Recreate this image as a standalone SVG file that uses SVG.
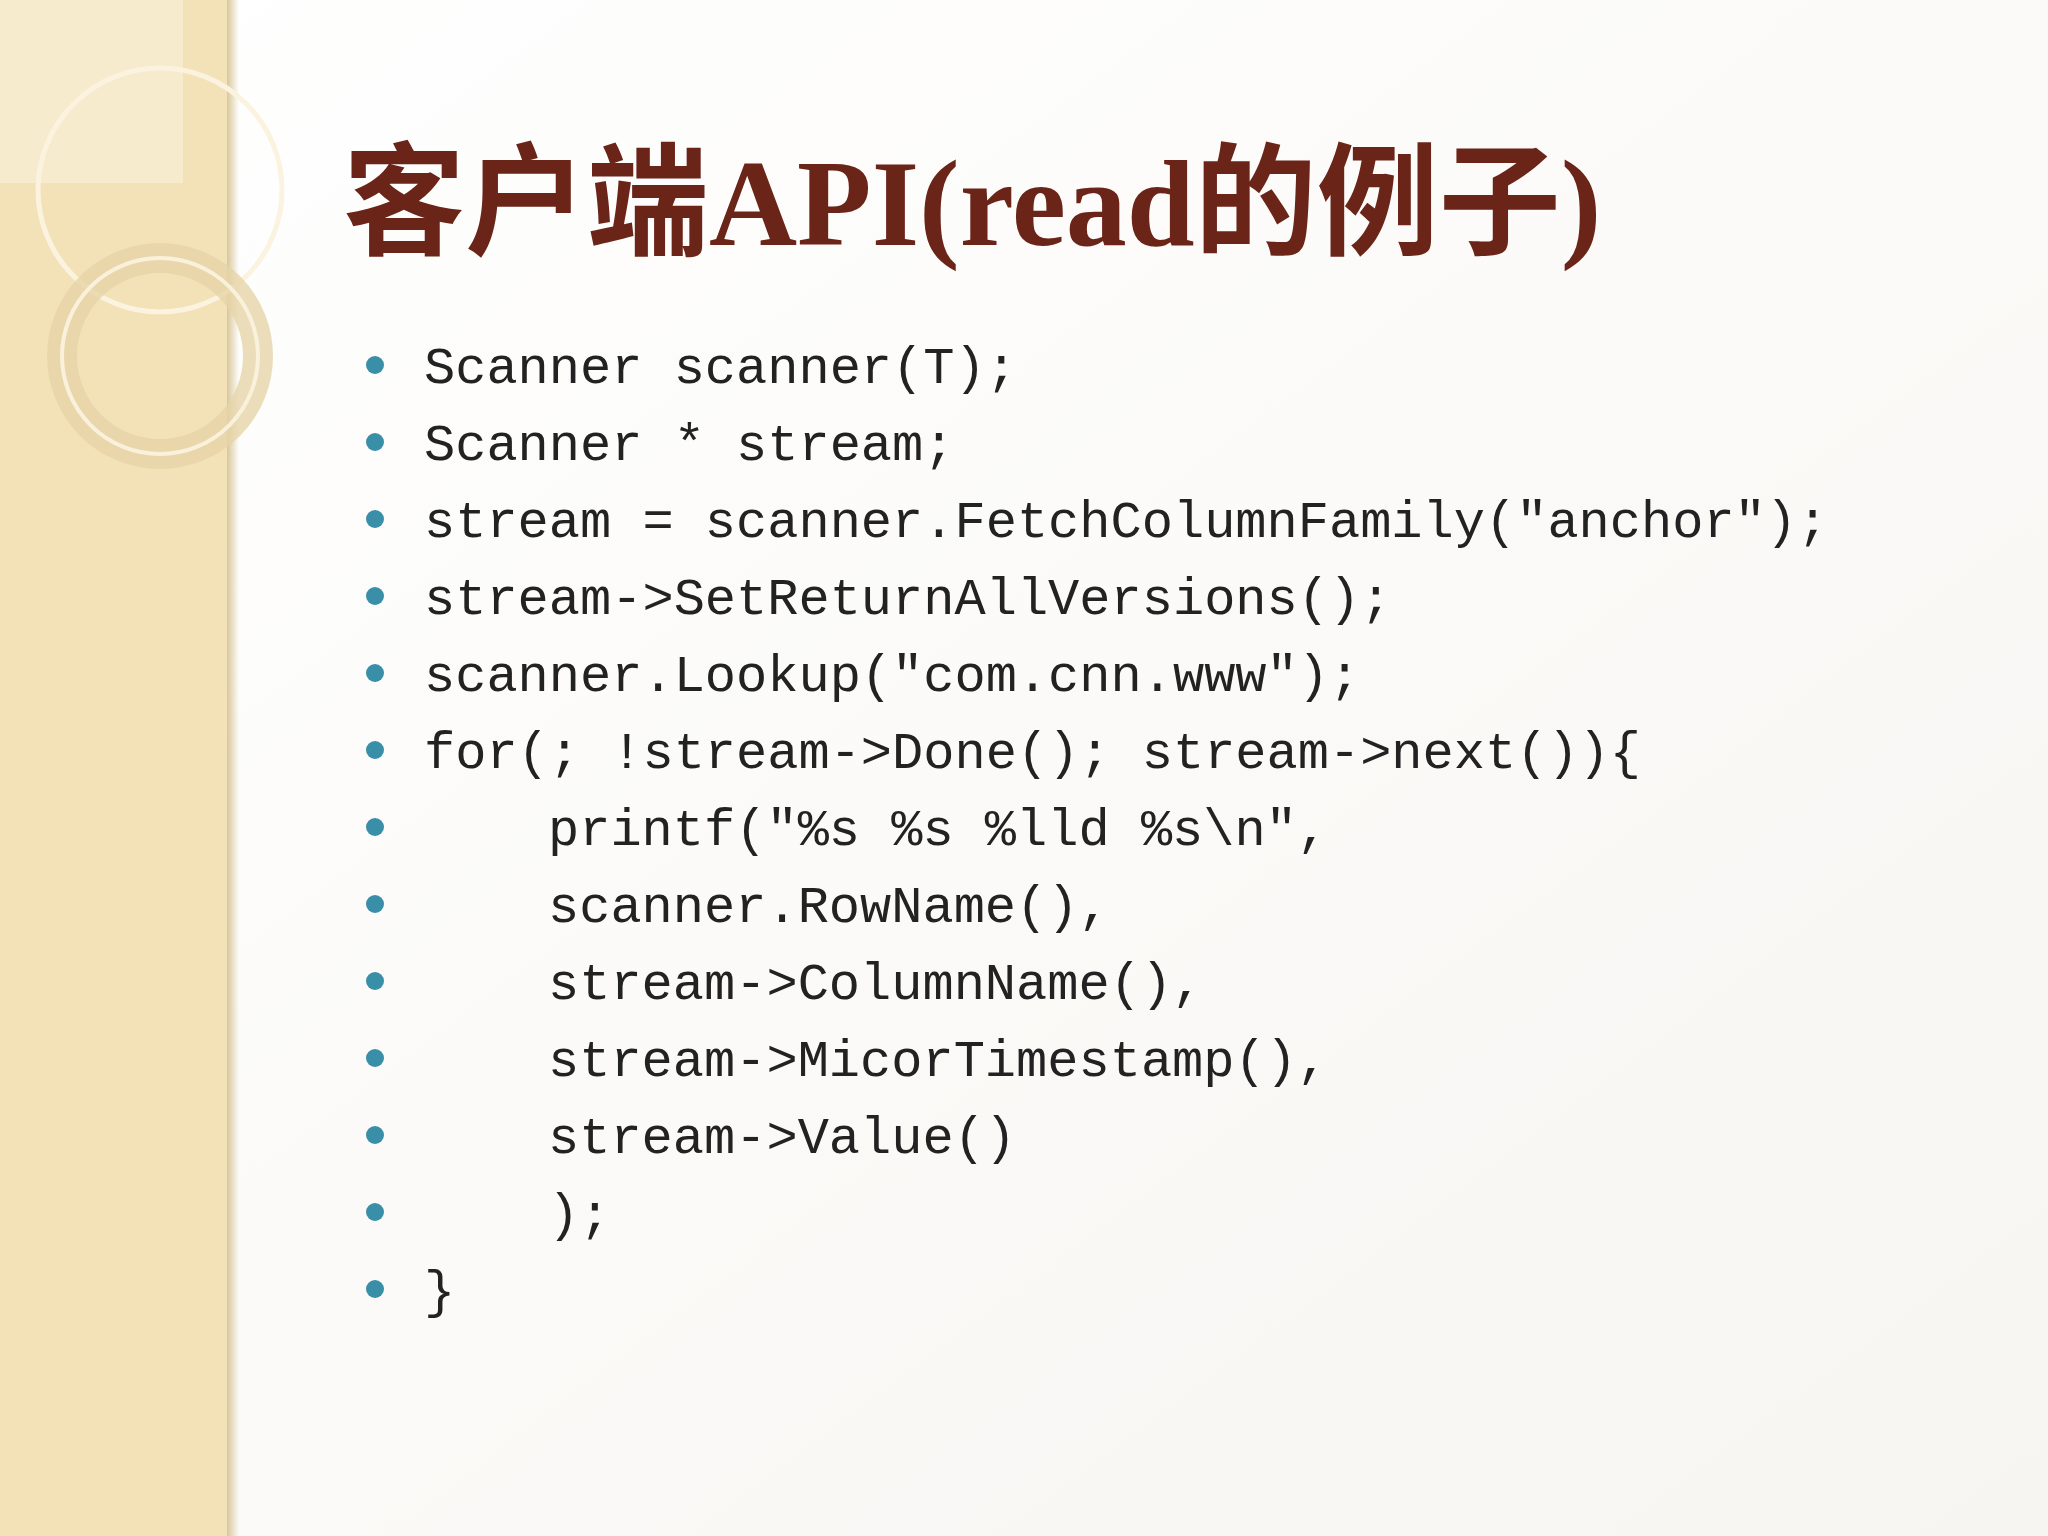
<svg xmlns="http://www.w3.org/2000/svg" width="2048" height="1536" viewBox="0 0 2048 1536">
<defs>
<linearGradient id="bg" x1="0" y1="0" x2="1" y2="1"><stop offset="0" stop-color="#ffffff"/><stop offset="1" stop-color="#f7f5f1"/></linearGradient>
<linearGradient id="edge" x1="0" y1="0" x2="1" y2="0"><stop offset="0" stop-color="#d9c79a"/><stop offset="1" stop-color="#d9c79a" stop-opacity="0"/></linearGradient>
</defs>
<style>
.code{font-family:"Liberation Mono","Noto Sans CJK SC",monospace;font-size:52px;fill:#222}
.b{fill:#3a8fa8}
</style>
<rect width="2048" height="1536" fill="url(#bg)"/>
<rect width="227" height="1536" fill="#f3e2b8"/>
<rect x="227" width="12" height="1536" fill="url(#edge)"/>
<rect width="183" height="183" fill="#f8edd2" opacity="0.8"/>
<circle cx="160" cy="190" r="122" fill="none" stroke="#fbf3df" stroke-width="5"/>
<circle cx="160" cy="356" r="98" fill="none" stroke="#e6d5a8" stroke-width="30" opacity="0.8"/>
<circle cx="160" cy="356" r="98" fill="none" stroke="#faf1dc" stroke-width="4"/>
<text x="343" y="245" font-family="Liberation Serif,'Noto Sans CJK SC',serif" font-size="122" font-weight="bold" fill="#6b2418">客户端API(read的例子)</text>
<g class="b">
<circle cx="375" cy="365" r="9"/><circle cx="375" cy="442" r="9"/><circle cx="375" cy="519" r="9"/><circle cx="375" cy="596" r="9"/><circle cx="375" cy="673" r="9"/><circle cx="375" cy="750" r="9"/><circle cx="375" cy="827" r="9"/><circle cx="375" cy="904" r="9"/><circle cx="375" cy="981" r="9"/><circle cx="375" cy="1058" r="9"/><circle cx="375" cy="1135" r="9"/><circle cx="375" cy="1212" r="9"/><circle cx="375" cy="1289" r="9"/>
</g>
<g class="code" xml:space="preserve">
<text x="424" y="383">Scanner scanner(T);</text>
<text x="424" y="460">Scanner * stream;</text>
<text x="424" y="537">stream = scanner.FetchColumnFamily(″anchor″);</text>
<text x="424" y="614">stream-&gt;SetReturnAllVersions();</text>
<text x="424" y="691">scanner.Lookup(″com.cnn.www″);</text>
<text x="424" y="768">for(; !stream-&gt;Done(); stream-&gt;next()){</text>
<text x="548" y="845">printf(″%s %s %lld %s\n″,</text>
<text x="548" y="922">scanner.RowName(),</text>
<text x="548" y="999">stream-&gt;ColumnName(),</text>
<text x="548" y="1076">stream-&gt;MicorTimestamp(),</text>
<text x="548" y="1153">stream-&gt;Value()</text>
<text x="548" y="1230">);</text>
<text x="424" y="1307">}</text>
</g>
</svg>
